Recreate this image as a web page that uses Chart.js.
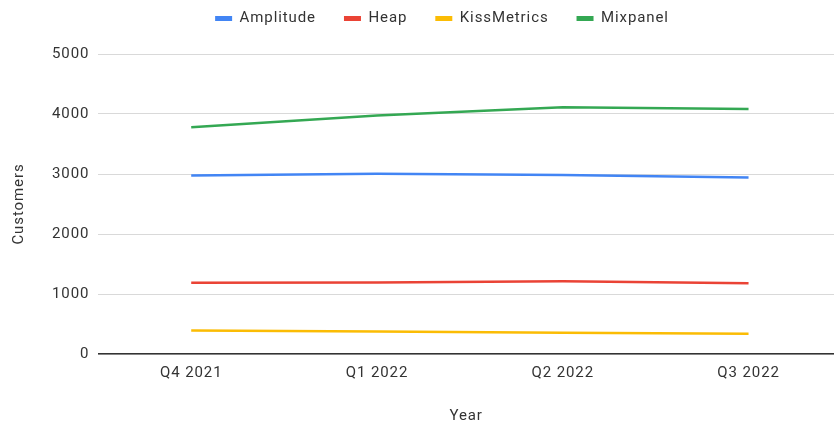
<!DOCTYPE html>
<html>
<head>
<meta charset="utf-8">
<script src="https://cdn.jsdelivr.net/npm/chart.js@4"></script>
<style>
  html, body { margin: 0; padding: 0; background: #fff; }
  #wrap { width: 834px; height: 425px; }
</style>
</head>
<body>
<div id="wrap"><canvas id="lineChart"></canvas></div>
<script>
const quarters = ['Q4 2021', 'Q1 2022', 'Q2 2022', 'Q3 2022'];
const amplitude = [2977, 3005, 2985, 2943];
const heap = [1187, 1190, 1212, 1181];
const kissMetrics = [390, 373, 356, 339];
const mixpanel = [3780, 3975, 4114, 4085];
const yTicks = [0, 1000, 2000, 3000, 4000, 5000];

const FONT = 'Roboto, Arial, sans-serif';
const SPACING = '0.9px';

function line(label, values, color) {
  return {
    label: label,
    data: values.map((v, i) => ({ x: i, y: v })),
    borderColor: color,
    backgroundColor: color,
    borderWidth: 2.5,
    pointRadius: 0,
    tension: 0,
    fill: false
  };
}

// text in the picture is a bit wider than Roboto, so add some letter spacing
const wideText = {
  id: 'wideText',
  beforeUpdate(chart) { chart.ctx.letterSpacing = SPACING; },
  beforeDraw(chart) { chart.ctx.letterSpacing = SPACING; }
};

// legend sits higher and a little right of where its padding would put it
const legendPlace = {
  id: 'legendPlace',
  beforeInit(chart) {
    const legend = chart.legend;
    const fit = legend.fit;
    legend.fit = function () {
      fit.call(this);
      this.height = 54;
    };
    const draw = legend.draw;
    legend.draw = function () {
      const t = this.top, l = this.left, r = this.right;
      this.top = t - 17;
      this.left = l + 20;
      this.right = r + 20;
      draw.call(this);
      this.top = t;
      this.left = l;
      this.right = r;
    };
  }
};

new Chart(document.getElementById('lineChart'), {
  type: 'line',
  data: {
    datasets: [
      line('Amplitude', amplitude, '#4285F4'),
      line('Heap', heap, '#EA4335'),
      line('KissMetrics', kissMetrics, '#FBBC04'),
      line('Mixpanel', mixpanel, '#34A853')
    ]
  },
  plugins: [wideText, legendPlace],
  options: {
    responsive: true,
    maintainAspectRatio: false,
    animation: false,
    layout: { padding: { top: 0, right: 0, left: 10, bottom: 0 } },
    plugins: {
      tooltip: { enabled: false },
      legend: {
        position: 'top',
        labels: {
          boxWidth: 17,
          boxHeight: 5,
          padding: 28,
          color: '#333',
          font: { family: FONT, size: 15 },
          generateLabels: (chart) => {
            const items = Chart.defaults.plugins.legend.labels.generateLabels(chart);
            items.forEach(it => { it.lineWidth = 0; });
            return items;
          }
        }
      }
    },
    scales: {
      x: {
        type: 'linear',
        min: -0.5,
        max: 3.46,
        afterBuildTicks: (axis) => { axis.ticks = quarters.map((q, i) => ({ value: i })); },
        grid: { display: false, drawTicks: false },
        border: { display: true, color: '#333', width: 1.5 },
        ticks: { color: '#333', font: { family: FONT, size: 15 }, padding: 10, callback: (v) => quarters[v] },
        title: { display: true, text: 'Year', color: '#333', font: { family: FONT, size: 15 }, padding: { top: 15, bottom: 0 } }
      },
      y: {
        min: 0,
        max: 5000,
        afterBuildTicks: (axis) => { axis.ticks = yTicks.map(v => ({ value: v })); },
        grid: { color: '#d9d9d9', drawTicks: false },
        border: { display: false },
        ticks: { color: '#333', font: { family: FONT, size: 15 }, padding: 9, callback: (v) => String(v) },
        title: { display: true, text: 'Customers', color: '#333', font: { family: FONT, size: 15 }, padding: { top: 0, bottom: 15 } }
      }
    }
  }
});
</script>
</body>
</html>
